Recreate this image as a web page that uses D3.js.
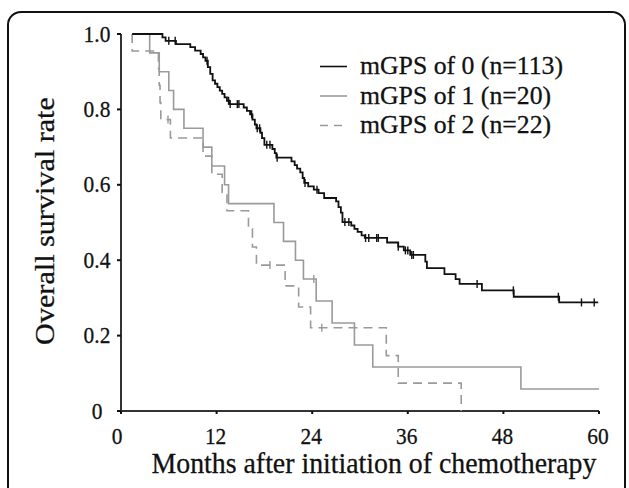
<!DOCTYPE html>
<html>
<head>
<meta charset="utf-8">
<script src="https://cdn.jsdelivr.net/npm/d3@7"></script>
<style>
  html, body { margin: 0; padding: 0; background: #fff; }
  svg { display: block; }
  text { font-family: "Liberation Serif", "Times New Roman", serif; fill: #111; stroke: #111; stroke-width: 0.25; }
</style>
</head>
<body>
<svg id="chart" width="629" height="488"></svg>
<script>
// Kaplan-Meier overall survival by mGPS group.
// Each step list: [month, survival after the event]; the first entry is the start of the curve.
const mgps0Steps = [
  [1.4, 1.0], [5.2, 0.991], [5.6, 0.982], [6.9, 0.973], [8.7, 0.965], [9.3, 0.956],
  [10.0, 0.947], [10.3, 0.938], [10.6, 0.929], [10.9, 0.912], [11.2, 0.894], [11.5, 0.877],
  [11.8, 0.868], [12.1, 0.859], [12.4, 0.850], [12.7, 0.841], [13.0, 0.832], [13.3, 0.823],
  [13.6, 0.814], [15.4, 0.805], [15.8, 0.796], [16.2, 0.787], [16.5, 0.773], [16.8, 0.760],
  [17.0, 0.750], [17.5, 0.738], [17.7, 0.724], [18.0, 0.706], [19.0, 0.695], [19.3, 0.684],
  [19.5, 0.672], [21.4, 0.662], [21.8, 0.652], [22.1, 0.643], [22.5, 0.633], [22.8, 0.618],
  [23.0, 0.605], [23.5, 0.596], [24.2, 0.587], [24.8, 0.578], [25.5, 0.565], [27.0, 0.556],
  [27.3, 0.541], [27.6, 0.526], [27.8, 0.501], [28.9, 0.492], [29.3, 0.483], [29.7, 0.475],
  [30.2, 0.466], [30.6, 0.459], [33.4, 0.447], [34.8, 0.436], [35.5, 0.426], [36.3, 0.414],
  [38.2, 0.396], [38.4, 0.379], [40.6, 0.363], [42.0, 0.350], [42.5, 0.337], [45.3, 0.320],
  [49.3, 0.303], [55.0, 0.288], [59.9, 0.288]
];
const mgps0Censored = [6.0, 6.8, 10.8, 13.5, 13.7, 14.6, 14.8, 16.4, 17.1, 17.4, 18.3, 18.7,
  19.6, 23.1, 24.6, 28.1, 28.6, 30.7, 31.1, 32.1, 32.3, 34.8, 35.7, 36.0, 36.5, 36.7,
  44.7, 49.25, 54.9, 57.8, 59.4];

const mgps1Steps = [
  [1.4, 1.0], [3.6, 0.95], [4.8, 0.90], [6.0, 0.85], [6.6, 0.80], [7.9, 0.75], [10.3, 0.70],
  [11.4, 0.65], [13.0, 0.60], [13.5, 0.55], [19.2, 0.50], [20.4, 0.45], [21.9, 0.40],
  [22.9, 0.35], [24.5, 0.2917], [26.5, 0.2333], [29.3, 0.175], [31.6, 0.1167],
  [50.2, 0.0583], [60.0, 0.0583]
];
const mgps1Censored = [24.2];

const mgps2Steps = [
  [1.4, 1.0], [1.4, 0.955], [4.7, 0.909], [4.8, 0.864], [4.9, 0.818], [5.0, 0.773],
  [6.2, 0.724], [10.3, 0.676], [11.4, 0.628], [12.7, 0.580], [13.3, 0.531], [16.0, 0.483],
  [16.5, 0.435], [17.0, 0.387], [20.6, 0.332], [22.3, 0.276], [23.8, 0.221], [33.3, 0.147],
  [34.8, 0.074], [42.7, 0.0]
];
const mgps2Censored = [5.9, 18.7, 25.2];

const seriesNames = ["mGPS of 0 (n=113)", "mGPS of 1 (n=20)", "mGPS of 2 (n=22)"];
const xTicks = [0, 12, 24, 36, 48, 60];
const yTicks = [0, 0.2, 0.4, 0.6, 0.8, 1.0];
const yTickLabels = ["0", "0.2", "0.4", "0.6", "0.8", "1.0"];
const xTitle = "Months after initiation of chemotherapy";
const yTitle = "Overall survival rate";

const svg = d3.select("#chart");

// frame around the figure panel
svg.append("rect")
  .attr("x", 8).attr("y", 12).attr("width", 617).attr("height", 500)
  .attr("rx", 13).attr("ry", 13)
  .attr("fill", "none").attr("stroke", "#111").attr("stroke-width", 2);

const x = d3.scaleLinear().domain([0, 60]).range([121, 599]);
const y = d3.scaleLinear().domain([0, 1]).range([411, 34]);

// text with its own horizontal/vertical stretch
function wideText(parent, tx, ty, str, size, sx, anchor, rotate, sy) {
  const g = parent.append("g")
    .attr("transform", `translate(${tx},${ty})` + (rotate ? ` rotate(${rotate})` : "") + ` scale(${sx},${sy || 1})`);
  return g.append("text")
    .attr("font-size", size)
    .attr("text-anchor", anchor || "start")
    .text(str);
}

// axes
const axisColor = "#333";
svg.append("line")
  .attr("x1", x(0)).attr("x2", x(0)).attr("y1", y(1)).attr("y2", y(0))
  .attr("stroke", axisColor).attr("stroke-width", 2);
svg.append("line")
  .attr("x1", x(0)).attr("x2", x(60)).attr("y1", y(0)).attr("y2", y(0))
  .attr("stroke", axisColor).attr("stroke-width", 2);

yTicks.forEach((v, i) => {
  svg.append("rect").attr("x", x(0) - 4).attr("y", y(v) - 1).attr("width", 4).attr("height", 2).attr("fill", "#111");
  wideText(svg, 97, y(v) + 7.5, yTickLabels[i], 21, 1.02, "middle", 0, 1.08);
});
xTicks.forEach(v => {
  svg.append("rect").attr("x", x(v) - 1).attr("y", y(0)).attr("width", 2).attr("height", 3).attr("fill", "#111");
  wideText(svg, x(v) - (v === 0 ? 4 : 1), 444, String(v), 21, 1.02, "middle", 0, 1.08);
});

wideText(svg, 374, 473, xTitle, 26, 1.07, "middle", 0, 1.1);
wideText(svg, 54, 221, yTitle, 26, 1.16, "middle", -90, 1.08);

// survival curves
const line = d3.line()
  .x(d => x(d[0]))
  .y(d => y(d[1]))
  .curve(d3.curveStepAfter);

function survivalAt(steps, t) {
  let s = steps[0][1];
  for (const d of steps) { if (d[0] <= t) s = d[1]; }
  return s;
}

const series = [
  { steps: mgps0Steps, censored: mgps0Censored, color: "#111", dash: null, width: 1.8 },
  { steps: mgps1Steps, censored: mgps1Censored, color: "#9a9a9a", dash: null, width: 1.6 },
  { steps: mgps2Steps, censored: mgps2Censored, color: "#9a9a9a", dash: "9,6", width: 1.6 }
];

// draw lighter curves first so the black one sits on top
[series[2], series[1], series[0]].forEach(s => {
  svg.append("path")
    .attr("d", line(s.steps))
    .attr("fill", "none")
    .attr("stroke", s.color)
    .attr("stroke-width", s.width)
    .attr("stroke-dasharray", s.dash);
  svg.append("g").selectAll("line")
    .data(s.censored)
    .join("line")
    .attr("x1", t => x(t)).attr("x2", t => x(t))
    .attr("y1", t => y(survivalAt(s.steps, t)) - 4)
    .attr("y2", t => y(survivalAt(s.steps, t)) + 4)
    .attr("stroke", s.color)
    .attr("stroke-width", 1.4);
});

// legend
const legend = svg.append("g");
series.forEach((s, i) => {
  const ly = 66.5 + i * 29.5;
  legend.append("line")
    .attr("x1", 320).attr("x2", 347).attr("y1", ly).attr("y2", ly)
    .attr("stroke", s.color).attr("stroke-width", 1.6)
    .attr("stroke-dasharray", s.dash ? "8,6" : null);
  wideText(legend, 360, ly + 7.5, seriesNames[i], 23, 1.12, "start", 0, 1.06);
});
</script>
</body>
</html>
